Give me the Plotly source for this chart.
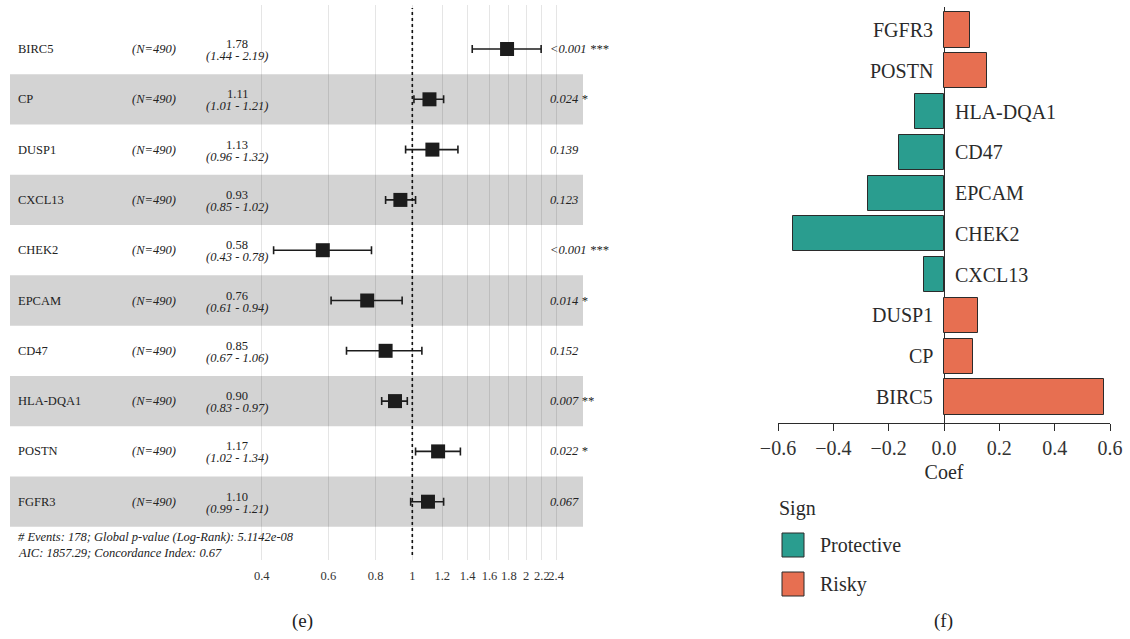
import plotly.graph_objects as go

# ---- Cox model results (forest panel, top to bottom) ----
genes = ["BIRC5", "CP", "DUSP1", "CXCL13", "CHEK2", "EPCAM", "CD47", "HLA-DQA1", "POSTN", "FGFR3"]
n_obs = [490, 490, 490, 490, 490, 490, 490, 490, 490, 490]
hr = [1.78, 1.11, 1.13, 0.93, 0.58, 0.76, 0.85, 0.90, 1.17, 1.10]
ci_low = [1.44, 1.01, 0.96, 0.85, 0.43, 0.61, 0.67, 0.83, 1.02, 0.99]
ci_high = [2.19, 1.21, 1.32, 1.02, 0.78, 0.94, 1.06, 0.97, 1.34, 1.21]
p_text = ["<0.001 ***", "0.024 *", "0.139", "0.123", "<0.001 ***", "0.014 *",
          "0.152", "0.007 **", "0.022 *", "0.067"]
hr_ticks = [0.4, 0.6, 0.8, 1, 1.2, 1.4, 1.6, 1.8, 2, 2.2, 2.4]
hr_tick_text = ["0.4", "0.6", "0.8", "1", "1.2", "1.4", "1.6", "1.8", "2", "2.2", "2.4"]
footnote = ["# Events: 178; Global p-value (Log-Rank): 5.1142e-08",
            "AIC: 1857.29; Concordance Index: 0.67"]

# ---- coefficient panel (bottom to top) ----
coef_genes = ["BIRC5", "CP", "DUSP1", "CXCL13", "CHEK2", "EPCAM", "CD47", "HLA-DQA1", "POSTN", "FGFR3"]
coef = [0.577, 0.104, 0.122, -0.073, -0.545, -0.274, -0.163, -0.105, 0.157, 0.095]
coef_ticks = [-0.6, -0.4, -0.2, 0.0, 0.2, 0.4, 0.6]

W, H = 1130, 639
SERIF = "Liberation Serif"
TEAL = "#2A9D8F"
ORANGE = "#E76F51"


def px_x(p):
    return p / W


def px_y(p):
    return 1 - p / H


rows = list(range(len(genes)))
fig = go.Figure()

# forest: squares with CI whiskers
fig.add_trace(go.Scatter(
    x=hr, y=rows, mode="markers",
    marker=dict(symbol="square", size=14, color="#1c1c1c"),
    error_x=dict(type="data", symmetric=False,
                 array=[h - m for h, m in zip(ci_high, hr)],
                 arrayminus=[m - l for m, l in zip(hr, ci_low)],
                 color="#1c1c1c", thickness=1.6, width=4),
    xaxis="x", yaxis="y", showlegend=False, hoverinfo="skip",
))

# coefficient bars
prot = [(g, c) for g, c in zip(coef_genes, coef) if c < 0]
risk = [(g, c) for g, c in zip(coef_genes, coef) if c >= 0]
for name, items, col in [("Protective", prot, TEAL), ("Risky", risk, ORANGE)]:
    fig.add_trace(go.Bar(
        x=[c for _, c in items], y=[g for g, _ in items], orientation="h",
        marker=dict(color=col, line=dict(color="#2b2b2b", width=1)),
        width=0.86, name=name, xaxis="x2", yaxis="y2", showlegend=False,
        hoverinfo="skip",
    ))

shapes = []
annotations = []

# alternating row shading
for i in rows:
    if i % 2 == 1:
        shapes.append(dict(type="rect", xref="paper", yref="y",
                           x0=px_x(10), x1=px_x(583), y0=i - 0.5, y1=i + 0.5,
                           fillcolor="#d3d3d3", line=dict(width=0), layer="below"))

# reference line at HR = 1
shapes.append(dict(type="line", xref="x", yref="paper", x0=1, x1=1,
                   y0=px_y(555), y1=px_y(8),
                   line=dict(color="#111111", width=1.6, dash="dot")))

txt = dict(family=SERIF, size=12.5, color="#222222")
itxt = dict(family=SERIF, size=12.5, color="#222222", style="italic")
for i, g in enumerate(genes):
    annotations.append(dict(xref="paper", yref="y", x=px_x(16), y=i, text=g,
                            xanchor="left", yanchor="middle", showarrow=False, font=txt))
    annotations.append(dict(xref="paper", yref="y", x=px_x(130), y=i,
                            text=f"(N={n_obs[i]})", xanchor="left", yanchor="middle",
                            showarrow=False, font=itxt))
    annotations.append(dict(xref="paper", yref="y", x=px_x(237), y=i, yshift=5,
                            text=f"{hr[i]:.2f}", xanchor="center", yanchor="middle",
                            showarrow=False, font=txt))
    annotations.append(dict(xref="paper", yref="y", x=px_x(237), y=i, yshift=-7,
                            text=f"({ci_low[i]:.2f} - {ci_high[i]:.2f})", xanchor="center",
                            yanchor="middle", showarrow=False, font=itxt))
    annotations.append(dict(xref="paper", yref="y", x=px_x(548), y=i, text=p_text[i],
                            xanchor="left", yanchor="middle", showarrow=False, font=itxt))

for k, line in enumerate(footnote):
    annotations.append(dict(xref="paper", yref="paper", x=px_x(16), y=px_y(537 + 16 * k),
                            text=line, xanchor="left", yanchor="middle", showarrow=False,
                            font=dict(family=SERIF, size=12.5, color="#222222", style="italic")))

# gene labels beside the zero line
for g, c in zip(coef_genes, coef):
    annotations.append(dict(xref="x2", yref="y2", x=0, y=g, text=g,
                            xanchor="right" if c >= 0 else "left",
                            xshift=-9 if c >= 0 else 9, yanchor="middle",
                            showarrow=False, font=dict(family=SERIF, size=20, color="#2a2a2a")))

# legend
annotations.append(dict(xref="paper", yref="paper", x=px_x(777), y=px_y(509), text="Sign",
                        xanchor="left", yanchor="middle", showarrow=False,
                        font=dict(family=SERIF, size=20, color="#2a2a2a")))
for k, (lab, col) in enumerate([("Protective", TEAL), ("Risky", ORANGE)]):
    yc = 545 + 39 * k
    shapes.append(dict(type="rect", xref="paper", yref="paper",
                       x0=px_x(782), x1=px_x(804), y0=px_y(yc + 12), y1=px_y(yc - 12),
                       fillcolor=col, line=dict(color="#2b2b2b", width=1)))
    annotations.append(dict(xref="paper", yref="paper", x=px_x(818), y=px_y(yc), text=lab,
                            xanchor="left", yanchor="middle", showarrow=False,
                            font=dict(family=SERIF, size=20, color="#2a2a2a")))

# panel captions
for lab, xc in [("(e)", 302), ("(f)", 943)]:
    annotations.append(dict(xref="paper", yref="paper", x=px_x(xc), y=px_y(621), text=lab,
                            xanchor="center", yanchor="middle", showarrow=False,
                            font=dict(family=SERIF, size=19, color="#222222")))

fig.update_layout(
    width=W, height=H, margin=dict(l=0, r=0, t=0, b=0, autoexpand=False),
    paper_bgcolor="white", plot_bgcolor="rgba(0,0,0,0)",
    font=dict(family=SERIF, color="#222222"),
    shapes=shapes, annotations=annotations, bargap=0, showlegend=False,
    xaxis=dict(domain=[px_x(10), px_x(583)], type="log", range=[-1.0632, 0.4511],
               tickvals=hr_ticks, ticktext=hr_tick_text, tickangle=0,
               showgrid=True, gridcolor="rgba(0,0,0,0.1)", gridwidth=1, zeroline=False,
               showline=False, ticks="", ticklabelstandoff=6, automargin=False,
               tickfont=dict(family=SERIF, size=12.5, color="#333333"), anchor="y"),
    yaxis=dict(domain=[px_y(560), px_y(5)], range=[10.159, -0.875], showgrid=False,
               zeroline=False, showticklabels=False, showline=False, anchor="x",
               automargin=False),
    xaxis2=dict(domain=[px_x(778), px_x(1110)], range=[-0.6, 0.6], tickvals=coef_ticks,
                tickformat=".1f", ticks="outside", ticklen=7, tickwidth=1.2,
                tickcolor="#2b2b2b", showline=True, linecolor="#2b2b2b", linewidth=1.2,
                showgrid=False, zeroline=True, zerolinecolor="#2b2b2b", zerolinewidth=1.2,
                tickfont=dict(family=SERIF, size=20, color="#333333"),
                title=dict(text="Coef", font=dict(family=SERIF, size=20, color="#2a2a2a"),
                           standoff=6),
                anchor="y2", automargin=False),
    yaxis2=dict(domain=[px_y(423), px_y(7)], type="category", categoryorder="array",
                categoryarray=coef_genes, range=[-0.638, 9.564], showgrid=False,
                zeroline=False, showticklabels=False, showline=False, anchor="x2",
                automargin=False),
)

fig.write_html("out.html")
